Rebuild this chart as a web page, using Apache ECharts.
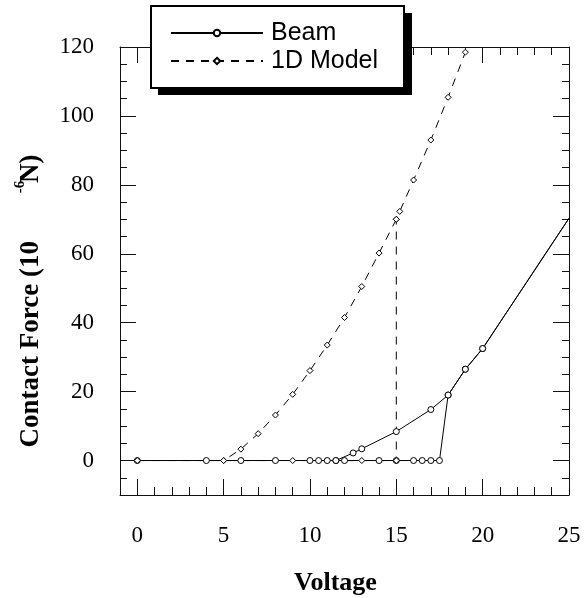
<!DOCTYPE html>
<html>
<head>
<meta charset="utf-8">
<script src="https://cdn.jsdelivr.net/npm/echarts@6/dist/echarts.min.js"></script>
<style>
    html, body { margin: 0; padding: 0; background: #fff; }
    #chart { width: 588px; height: 598px; }
</style>
</head>
<body>
<div id="chart"></div>
<script>
// Beam: voltage sweep up, then back down (hysteresis)
const beamUpVoltage = [0, 4, 6, 8, 10, 10.5, 11, 11.5, 12, 14, 15, 16, 16.5, 17, 17.5, 18, 19, 20, 25]
const beamUpForce = [0, 0, 0, 0, 0, 0, 0, 0, 0, 0, 0, 0, 0, 0, 0, 19, 26.5, 32.5, 70.3]
const beamDownVoltage = [25, 20, 19, 18, 17, 15, 13, 12.5, 11.5]
const beamDownForce = [70.3, 32.5, 26.5, 19, 14.8, 8.4, 3.4, 2.2, 0]

// 1D model: pull-in at 15 V, release at 5 V
const modelUpVoltage = [0, 5, 9, 13, 15, 15, 15.2, 16, 17, 18, 19]
const modelUpForce = [0, 0, 0, 0, 0, 70, 72.3, 81.4, 93, 105.4, 118.5]
const modelDownVoltage = [15, 14, 13, 12, 11, 10, 9, 8, 7, 6, 5]
const modelDownForce = [70, 60.2, 50.5, 41.5, 33.5, 26.1, 19.2, 13.2, 7.8, 3.3, 0]

const xTickLabels = [0, 5, 10, 15, 20, 25]
const yTickLabels = [0, 20, 40, 60, 80, 100, 120]

const X_MIN = -1, X_MAX = 25, X_MINOR = 1, X_MAJOR = 5
const Y_MIN = -10, Y_MAX = 120, Y_MINOR = 5, Y_MAJOR = 20

// evenly spaced tick slots, used by the category axes that carry the long ticks
const slots = (min, max, step) => {
    const out = []
    for (let v = min; v <= max + 1e-9; v += step) out.push(String(v))
    return out
}
const xSlots = slots(X_MIN, X_MAX, X_MINOR)
const ySlots = slots(Y_MIN, Y_MAX, Y_MINOR)

const zip = (xs, ys) => xs.map((x, i) => {
    // the last point sits on the frame edge, its marker is cut off there
    if (x >= X_MAX) return { value: [x, ys[i]], symbol: 'none' }
    return [x, ys[i]]
})

const serif = 'Liberation Serif'
const sans = 'Liberation Sans'
const ink = '#111'

const hidden = {
    splitLine: { show: false },
    axisLine: { show: false, onZero: false },
    axisLabel: { show: false },
    axisTick: { show: false },
}

// value axes: frame line, short ticks, labels
const valueAxis = (position, min, max, interval, labels, margin, tickLen) => Object.assign({}, hidden, {
    type: 'value',
    position, min, max, interval,
    axisLine: { show: true, onZero: false, lineStyle: { color: ink, width: 1 } },
    axisTick: { show: true, inside: true, length: tickLen, lineStyle: { color: ink } },
    axisLabel: labels ? {
        show: true, customValues: labels, margin,
        color: '#000', fontFamily: serif, fontSize: 23,
    } : { show: false },
})

// category axes laid over the same span: only the long ticks
const majorAxis = (position, data, every) => Object.assign({}, hidden, {
    type: 'category',
    position,
    data,
    boundaryGap: false,
    axisTick: {
        show: true, inside: true, length: 16,
        interval: (idx, val) => Number(val) % every === 0,
        lineStyle: { color: ink },
    },
})

const xMain = valueAxis('bottom', X_MIN, X_MAX, X_MINOR, xTickLabels, 29, 8)
xMain.name = 'Voltage'
xMain.nameLocation = 'middle'
xMain.nameGap = 75
xMain.nameTextStyle = {
    color: '#000', fontFamily: serif, fontWeight: 'bold', fontSize: 26,
    padding: [0, 18, 0, 0],
}

// the exponent is placed on its own (graphic below), the gap token keeps its room
const yMain = valueAxis('left', Y_MIN, Y_MAX, Y_MINOR, yTickLabels, 26, 7)
yMain.name = '{a|Contact Force (10}{g| }{a|N)}'
yMain.nameLocation = 'middle'
yMain.nameGap = 74
yMain.nameTextStyle = {
    padding: [0, 60, 0, 0],
    rich: {
        a: { color: '#000', fontFamily: serif, fontWeight: 'bold', fontSize: 27, lineHeight: 30 },
        g: { width: 58, fontSize: 10 },
    },
}

const lineSeries = (name, data, dashed, symbol) => ({
    name,
    type: 'line',
    data,
    xAxisIndex: 0,
    yAxisIndex: 0,
    symbol,
    symbolSize: 6,
    showAllSymbol: true,
    animation: false,
    clip: true,
    color: '#000',
    lineStyle: { color: '#000', width: 1, type: dashed ? [8, 7] : 'solid' },
    itemStyle: { color: '#fff', borderColor: '#000', borderWidth: 1 },
    emphasis: { disabled: true },
})

const chart = echarts.init(document.getElementById('chart'))
chart.setOption({
    backgroundColor: '#fff',
    animation: false,
    grid: { left: 120, top: 47, width: 449, height: 448, containLabel: false, outerBoundsMode: 'none' },
    xAxis: [
        xMain,
        valueAxis('top', X_MIN, X_MAX, X_MINOR, null, 0, 8),
        majorAxis('bottom', xSlots, X_MAJOR),
        majorAxis('top', xSlots, X_MAJOR),
    ],
    yAxis: [
        yMain,
        valueAxis('right', Y_MIN, Y_MAX, Y_MINOR, null, 0, 7),
        majorAxis('left', ySlots, Y_MAJOR),
        majorAxis('right', ySlots, Y_MAJOR),
    ],
    graphic: [
        // solid drop shadow behind the legend box
        {
            type: 'rect',
            shape: { x: 158, y: 13, width: 254, height: 82 },
            style: { fill: '#000' },
            z: 9,
        },
        // superscript of the y-axis unit
        {
            type: 'text',
            x: 20, y: 187,
            rotation: Math.PI / 2,
            style: {
                text: '-6', fill: '#000',
                font: 'bold 15px "Liberation Serif"',
                align: 'center', verticalAlign: 'middle',
            },
        },
    ],
    legend: {
        left: 151,
        top: 6,
        orient: 'vertical',
        data: ['Beam', '1D Model'],
        itemWidth: 92,
        itemHeight: 8,
        itemGap: 0,
        padding: [13, 26, 13, 19],
        backgroundColor: '#fff',
        borderColor: '#000',
        borderWidth: 2,
        borderRadius: 0,
        textStyle: { color: '#000', fontFamily: sans, fontSize: 25, lineHeight: 28, padding: [0, 0, 0, 3] },
        selectedMode: false,
        z: 10,
    },
    series: [
        lineSeries('Beam', zip(beamUpVoltage, beamUpForce).concat(zip(beamDownVoltage, beamDownForce)), false, 'circle'),
        lineSeries('1D Model', zip(modelUpVoltage, modelUpForce), true, 'diamond'),
        lineSeries('1D Model', zip(modelDownVoltage, modelDownForce), true, 'diamond'),
    ],
})
</script>
</body>
</html>
